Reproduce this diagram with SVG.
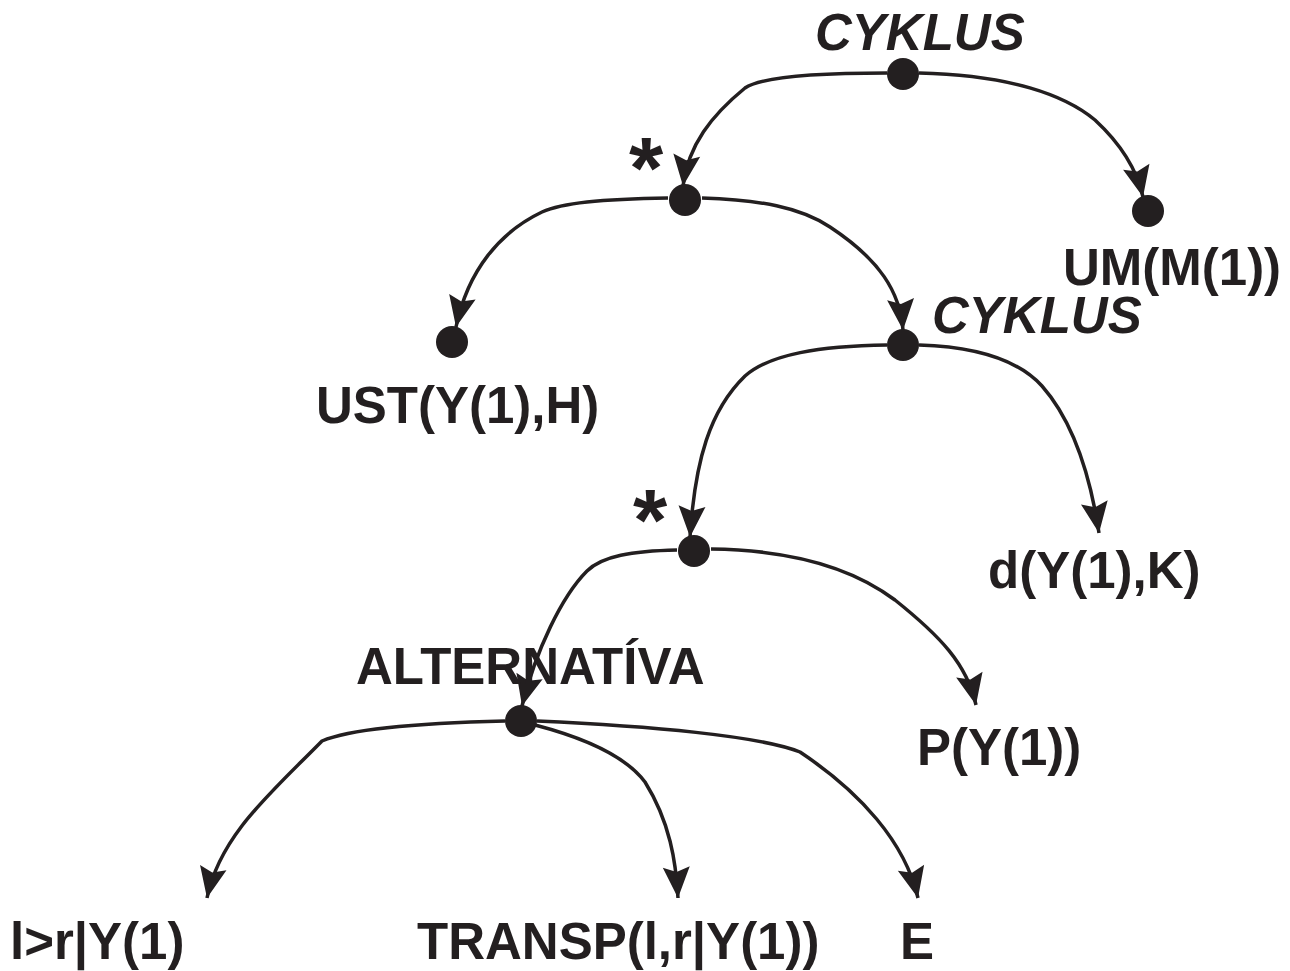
<svg xmlns="http://www.w3.org/2000/svg" width="1290" height="971" viewBox="0 0 1290 971">
  <style>
    .lbl { font-family: "Liberation Sans", Arial, sans-serif; font-weight: bold; font-size: 51px; fill: #231f20; }
    .it { font-style: italic; }
    .star { font-family: "Liberation Sans", Arial, sans-serif; font-weight: bold; font-size: 88px; fill: #231f20; }
    .dot { fill: #231f20; }
    .edge { fill: none; stroke: #231f20; stroke-width: 3.5; marker-end: url(#arrow); }
  </style>
  <defs>
    <!-- barbed arrowhead, tip at (40,20) -->
    <marker id="arrow" markerUnits="userSpaceOnUse" markerWidth="44" markerHeight="40" refX="40" refY="20" orient="auto">
      <path d="M40,20 L9,6.5 L14,20 L9,33.5 Z" fill="#231f20"/>
    </marker>
  </defs>
  <rect width="1290" height="971" fill="#ffffff"/>

  <!-- connectors -->
  <g id="connectors">
    <path class="edge" d="M887,73 C820,73 762,76 745,88 C712,115 688,145 683,186"/>
    <path class="edge" d="M919,73 C1010,75 1065,95 1095,120 C1122,145 1137,170 1143,197"/>
    <path class="edge" d="M668,198 C600,199 562,203 542,212 C500,232 468,270 456,327"/>
    <path class="edge" d="M702,198 C760,200 800,207 830,227 C880,260 900,292 903,330"/>
    <path class="edge" d="M887,345 C820,346 770,354 745,376 C710,410 695,460 690,537"/>
    <path class="edge" d="M919,345 C985,347 1022,364 1042,386 C1072,420 1090,474 1099,533"/>
    <path class="edge" d="M677,550 C632,551 602,556 587,571 C562,596 536,650 522,706"/>
    <path class="edge" d="M711,549 C790,550 850,566 895,600 C940,636 967,664 976,705"/>
    <path class="edge" d="M505,721 C420,723 350,729 322,741 C272,792 220,835 207,898"/>
    <path class="edge" d="M535,725 C600,742 630,762 645,782 C670,822 676,862 678,898"/>
    <path class="edge" d="M537,721 C650,726 760,736 800,752 C860,792 905,842 918,898"/>
  </g>

  <g id="cyklus-top">
    <circle class="dot" cx="903" cy="74" r="16"/>
    <text class="lbl it" x="815" y="50">CYKLUS</text>
  </g>
  <g id="loop-top">
    <circle class="dot" cx="685" cy="200" r="16"/>
    <text class="star" x="629" y="198">*</text>
  </g>
  <g id="um">
    <circle class="dot" cx="1148" cy="211" r="16"/>
    <text class="lbl" x="1063" y="285">UM(M(1))</text>
  </g>
  <g id="ust">
    <circle class="dot" cx="452" cy="342" r="16"/>
    <text class="lbl" x="316" y="423">UST(Y(1),H)</text>
  </g>
  <g id="cyklus-inner">
    <circle class="dot" cx="903" cy="345" r="16"/>
    <text class="lbl it" x="932" y="333">CYKLUS</text>
  </g>
  <g id="loop-inner">
    <circle class="dot" cx="694" cy="551" r="16"/>
    <text class="star" x="633" y="550">*</text>
  </g>
  <g id="d">
    <text class="lbl" x="988" y="588">d(Y(1),K)</text>
  </g>
  <g id="alternativa">
    <circle class="dot" cx="521" cy="721" r="16"/>
    <text class="lbl" x="356" y="684">ALTERNATÍVA</text>
  </g>
  <g id="p">
    <text class="lbl" x="917" y="765">P(Y(1))</text>
  </g>
  <g id="cmp">
    <text class="lbl" x="10" y="959">l&gt;r|Y(1)</text>
  </g>
  <g id="transp">
    <text class="lbl" x="417" y="959">TRANSP(l,r|Y(1))</text>
  </g>
  <g id="e">
    <text class="lbl" x="900" y="959">E</text>
  </g>
</svg>
